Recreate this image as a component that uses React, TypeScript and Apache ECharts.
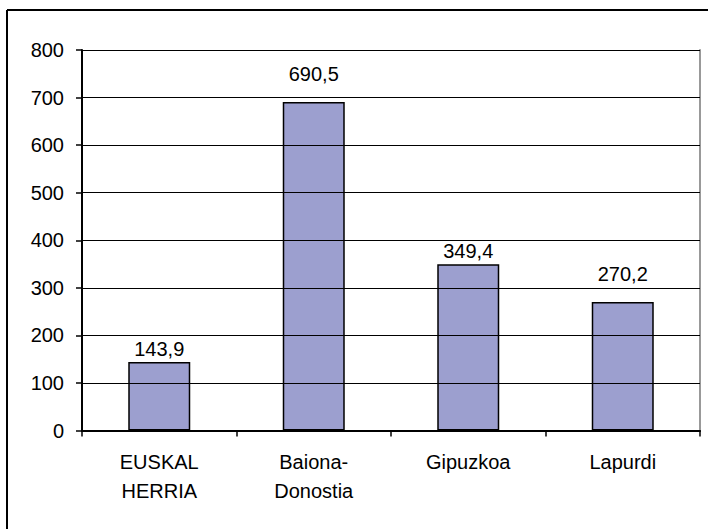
import React, { useEffect, useRef } from "react";
import * as echarts from "echarts";

const categories = ["EUSKAL\nHERRIA", "Baiona-\nDonostia", "Gipuzkoa", "Lapurdi"];
const values = [143.9, 690.5, 349.4, 270.2];

const FONT = "Liberation Sans, Arial, sans-serif";

export default function App() {
  const ref = useRef<HTMLDivElement>(null);
  useEffect(() => {
    if (!ref.current) return;
    const chart = echarts.init(ref.current, null, { renderer: "svg" });
    // label offsets (style only): labels that would cross a gridline are raised above it
    const labelDistance = [3, 18, 3, 18];
    chart.setOption({
      animation: false,
      backgroundColor: "#ffffff",
      grid: { left: 82, right: 8, top: 50, bottom: 98.5 },
      graphic: [
        { type: "line", shape: { x1: 7, y1: 10, x2: 708, y2: 10 }, style: { stroke: "#000", lineWidth: 2 } },
        { type: "line", shape: { x1: 7, y1: 10, x2: 7, y2: 529 }, style: { stroke: "#000", lineWidth: 2 } },
      ],
      xAxis: [
        {
          type: "category",
          data: categories,
          axisLine: { lineStyle: { color: "#000", width: 2 } },
          axisTick: { show: true, length: 6, lineStyle: { color: "#000", width: 1.5 } },
          axisLabel: {
            color: "#000",
            fontSize: 20,
            fontFamily: FONT,
            margin: 17,
            lineHeight: 29,
            interval: 0,
          },
          z: 5,
        },
        {
          type: "category",
          position: "top",
          data: categories,
          axisLine: { show: true, lineStyle: { color: "#999", width: 2 } },
          axisTick: { show: false },
          axisLabel: { show: false },
        },
      ],
      yAxis: [
        {
          type: "value",
          min: 0,
          max: 800,
          interval: 100,
          axisLine: { show: true, lineStyle: { color: "#000", width: 2 } },
          axisTick: { show: true, length: 6, lineStyle: { color: "#000", width: 1.5 } },
          axisLabel: { color: "#000", fontSize: 20, fontFamily: FONT, margin: 18 },
          splitLine: { show: true, lineStyle: { color: "#000", width: 1.2 } },
          z: 5,
        },
        {
          type: "value",
          position: "right",
          min: 0,
          max: 800,
          interval: 100,
          axisLine: { show: true, lineStyle: { color: "#999", width: 2 } },
          axisTick: { show: false },
          axisLabel: { show: false },
          splitLine: { show: false },
        },
      ],
      series: [
        {
          type: "bar",
          data: values.map((v, i) => ({
            value: v,
            label: { distance: labelDistance[i] },
          })),
          barWidth: 62,
          itemStyle: { color: "#9c9fcf", borderColor: "#000", borderWidth: 1.5 },
          label: {
            show: true,
            position: "top",
            color: "#000",
            fontSize: 20,
            fontFamily: FONT,
            formatter: (p: any) => String(p.value).replace(".", ","),
          },
          z: 3,
        },
      ],
    });
    return () => chart.dispose();
  }, []);
  return <div ref={ref} style={{ width: 708, height: 529, position: "absolute", left: 0, top: 0 }} />;
}
